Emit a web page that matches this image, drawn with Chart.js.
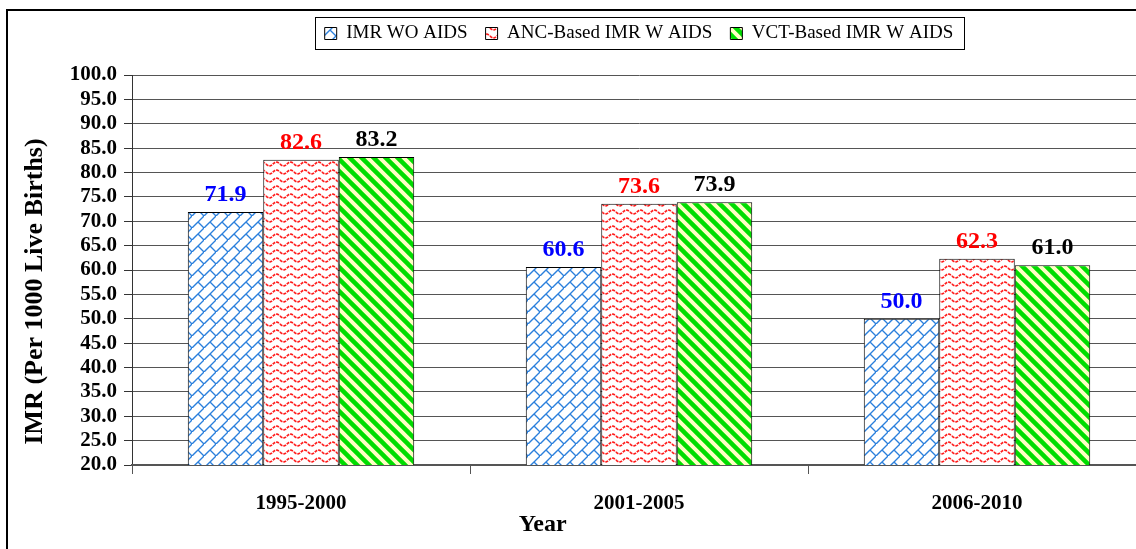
<!DOCTYPE html>
<html>
<head>
<meta charset="utf-8">
<script src="https://cdn.jsdelivr.net/npm/chart.js@4"></script>
<style>
  html, body { margin: 0; padding: 0; background: #fff; overflow: hidden; }
  #wrap { width: 1160px; height: 560px; }
</style>
</head>
<body>
<div id="wrap"><canvas id="myChart" width="1160" height="560"></canvas></div>
<script>
// chart data
const years = ['1995-2000', '2001-2005', '2006-2010'];
const seriesNames = ['IMR WO AIDS', 'ANC-Based IMR W AIDS', 'VCT-Based IMR W AIDS'];
const imrWithoutAids = [71.9, 60.6, 50.0];
const ancBasedImr = [82.6, 73.6, 62.3];
const vctBasedImr = [83.2, 73.9, 61.0];
const labelColors = ['#0000FF', '#FF0000', '#000000'];

const serif = '"Liberation Serif", "DejaVu Serif", serif';

// Excel-like fill patterns
function makePattern(kind) {
    const c = document.createElement('canvas');
    const g = c.getContext('2d');
    if (kind === 'bricks') {
        c.width = 12; c.height = 12;
        g.fillStyle = '#fff'; g.fillRect(0, 0, 12, 12);
        g.strokeStyle = '#2a7fdc'; g.lineWidth = 1.4;
        g.beginPath();
        g.moveTo(-2, 14); g.lineTo(14, -2);
        g.moveTo(6, 6); g.lineTo(12, 12);
        g.stroke();
    } else if (kind === 'wave') {
        c.width = 14; c.height = 8;
        g.fillStyle = '#fff'; g.fillRect(0, 0, 14, 8);
        g.strokeStyle = '#ff1a1a'; g.lineWidth = 1.7;
        g.setLineDash([3, 1]);
        g.beginPath();
        for (let x = 0; x <= 14; x++) {
            const y = 4 + 2 * Math.sin(2 * Math.PI * x / 14);
            if (x === 0) g.moveTo(x, y); else g.lineTo(x, y);
        }
        g.stroke();
    } else {
        c.width = 12; c.height = 12;
        g.fillStyle = '#ffffc4'; g.fillRect(0, 0, 12, 12);
        g.strokeStyle = '#00dd00'; g.lineWidth = 4.5;
        g.beginPath();
        g.moveTo(-1, -1); g.lineTo(13, 13);
        g.moveTo(-7, 5); g.lineTo(7, 19);
        g.moveTo(5, -7); g.lineTo(19, 7);
        g.stroke();
    }
    return document.getElementById('myChart').getContext('2d').createPattern(c, 'repeat');
}

// empty box between legend and plot
const spacer = {
    id: 'spacer',
    beforeInit(chart) {
        Chart.layouts.addBox(chart, {
            position: 'top', weight: 0, fullSize: false, options: {},
            top: 0, left: 0, right: 0, bottom: 0, width: 0, height: 0,
            isHorizontal() { return true; },
            update(maxWidth) { this.width = maxWidth; this.height = 22; },
            draw() {}
        });
    }
};

// outer frame, legend border, axis titles
const framePlugin = {
    id: 'frame',
    beforeDraw(chart) {
        const ctx = chart.ctx;
        ctx.save();
        ctx.fillStyle = '#fff';
        ctx.fillRect(0, 0, chart.width, chart.height);
        ctx.strokeStyle = '#000';
        ctx.lineWidth = 2;
        ctx.strokeRect(7, 10, chart.width + 20, chart.height + 20);
        ctx.restore();
    },
    afterDraw(chart) {
        const ctx = chart.ctx;
        const boxes = chart.legend.legendHitBoxes;
        if (boxes && boxes.length) {
            const first = boxes[0], last = boxes[boxes.length - 1];
            const midY = first.top + first.height / 2;
            ctx.save();
            ctx.strokeStyle = '#000';
            ctx.lineWidth = 1;
            ctx.strokeRect(Math.round(first.left) - 9.5, Math.round(midY) - 16.5,
                Math.round(last.left + last.width - first.left) + 20, 32);
            ctx.restore();
        }
        const a = chart.chartArea;
        ctx.save();
        ctx.fillStyle = '#000';
        ctx.font = 'bold 24px ' + serif;
        ctx.textAlign = 'center';
        ctx.textBaseline = 'middle';
        ctx.fillText('Year', a.left + (a.right - a.left) * 0.405, 525);
        ctx.translate(35, a.top + (a.bottom - a.top) * 0.555);
        ctx.rotate(-Math.PI / 2);
        ctx.font = 'bold 26px ' + serif;
        ctx.fillText('IMR (Per 1000 Live Births)', 0, 0);
        ctx.restore();
    }
};

// value labels above bars
const valueLabels = {
    id: 'valueLabels',
    afterDatasetsDraw(chart) {
        const ctx = chart.ctx;
        ctx.save();
        ctx.font = 'bold 24px ' + serif;
        ctx.textAlign = 'center';
        ctx.textBaseline = 'bottom';
        chart.data.datasets.forEach((ds, i) => {
            ctx.fillStyle = labelColors[i];
            chart.getDatasetMeta(i).data.forEach((bar, j) => {
                ctx.fillText(ds.data[j].toFixed(1), bar.x, bar.y - 5);
            });
        });
        ctx.restore();
    }
};

const ctx = document.getElementById('myChart');
new Chart(ctx, {
    type: 'bar',
    data: {
        labels: years,
        datasets: [
            { label: seriesNames[0], data: imrWithoutAids, backgroundColor: makePattern('bricks'), borderColor: '#000', borderWidth: 1 },
            { label: seriesNames[1], data: ancBasedImr, backgroundColor: makePattern('wave'), borderColor: '#000', borderWidth: 1 },
            { label: seriesNames[2], data: vctBasedImr, backgroundColor: makePattern('stripes'), borderColor: '#000', borderWidth: 1 }
        ]
    },
    options: {
        responsive: false,
        animation: false,
        categoryPercentage: 0.67,
        barPercentage: 1.0,
        layout: { padding: { left: 0, right: 14, top: 6, bottom: 0 } },
        plugins: {
            legend: {
                position: 'top',
                fullSize: false,
                labels: {
                    boxWidth: 12, boxHeight: 12, padding: 18,
                    color: '#000',
                    font: { family: serif, size: 19 }
                }
            },
            tooltip: { enabled: false }
        },
        scales: {
            y: {
                min: 20, max: 100,
                afterFit(s) { s.width = 132; },
                ticks: {
                    stepSize: 5,
                    autoSkip: false,
                    color: '#000',
                    padding: 7,
                    font: { family: serif, size: 21, weight: 'bold' },
                    callback: v => Number(v).toFixed(1)
                },
                grid: { color: '#555', tickLength: 8, tickColor: '#333' },
                border: { color: '#333', width: 1 }
            },
            x: {
                afterFit(s) { s.height = 95; },
                ticks: {
                    color: '#000',
                    padding: 17,
                    font: { family: serif, size: 21, weight: 'bold' }
                },
                grid: { drawOnChartArea: false, tickLength: 9, tickColor: '#555', offset: true },
                border: { color: '#555', width: 2 }
            }
        }
    },
    plugins: [spacer, framePlugin, valueLabels]
});
</script>
</body>
</html>
